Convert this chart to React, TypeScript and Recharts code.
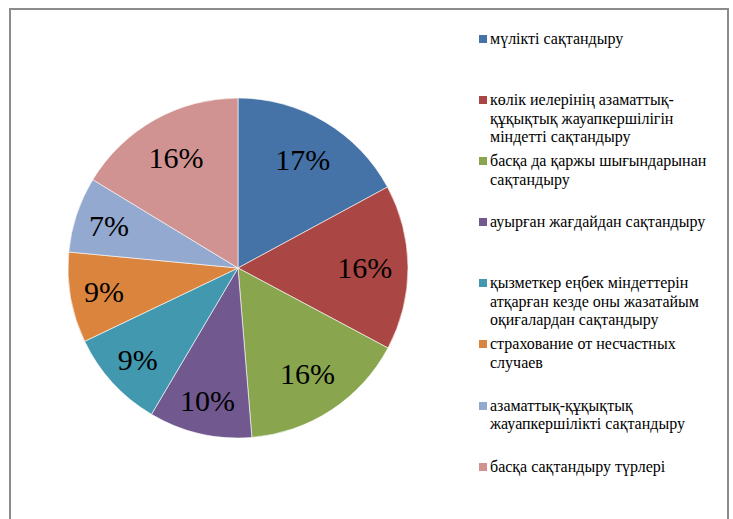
import React from 'react';
import { PieChart, Pie, Cell, Legend } from 'recharts';

const categories: string[] = [
  'мүлікті сақтандыру',
  'көлік иелерінің азаматтық-құқықтық жауапкершілігін міндетті сақтандыру',
  'басқа да қаржы шығындарынан сақтандыру',
  'ауырған жағдайдан сақтандыру',
  'қызметкер еңбек міндеттерін атқарған кезде оны жазатайым оқиғалардан сақтандыру',
  'страхование от несчастных случаев',
  'азаматтық-құқықтық жауапкершілікті сақтандыру',
  'басқа сақтандыру түрлері',
];

const shares: number[] = [17.1, 15.7, 15.9, 9.8, 9.4, 8.6, 7.2, 16.3];

const colors: string[] = [
  '#4572A7',
  '#AA4643',
  '#89A54E',
  '#71588F',
  '#4198AF',
  '#DB843D',
  '#93A9CF',
  '#D19392',
];

const data = categories.map((name, i) => ({ name, value: shares[i] }));
const total = shares.reduce((a, b) => a + b, 0);

const RAD = Math.PI / 180;
const FONT = 'Liberation Serif';

const renderLabel = (props: any) => {
  const { cx, cy, midAngle, outerRadius, value } = props;
  const pct = (value / total) * 100;
  const r = outerRadius * (pct > 12 ? 0.745 : 0.8);
  const x = cx + r * Math.cos(-midAngle * RAD);
  const y = cy + r * Math.sin(-midAngle * RAD);
  return (
    <text
      x={x}
      y={y}
      textAnchor="middle"
      dominantBaseline="central"
      fill="#000"
      fontFamily={FONT}
      fontSize={30}
    >
      {Math.round(pct)}%
    </text>
  );
};

const renderLegend = () => (
  <div style={{ fontFamily: FONT, fontSize: 16, lineHeight: '18.5px', color: '#000' }}>
    {data.map((d, i) => (
      <div key={d.name} style={{ display: 'flex', alignItems: 'flex-start', height: 61.1 }}>
        <span
          style={{
            display: 'inline-block',
            width: 8,
            height: 8,
            background: colors[i],
            marginTop: 5,
            marginRight: 3,
            flex: '0 0 auto',
          }}
        />
        <span style={{ width: 225, fontFamily: FONT }}>{d.name}</span>
      </div>
    ))}
  </div>
);

export default function App() {
  return (
    <div style={{ position: 'relative', width: 733, height: 519, overflow: 'hidden', background: '#fff' }}>
      <style>{'html,body{margin:0;padding:0;overflow:hidden;background:#fff}'}</style>
      <div
        style={{
          position: 'absolute',
          left: 9,
          top: 8,
          width: 720,
          height: 530,
          border: '2px solid #8c8c8c',
          boxSizing: 'border-box',
        }}
      />
      <div style={{ position: 'absolute', left: 0, top: 0 }}>
        <PieChart width={733} height={519}>
          <Pie
            data={data}
            dataKey="value"
            nameKey="name"
            cx={233}
            cy={263}
            outerRadius={170}
            startAngle={90}
            endAngle={-270}
            stroke="#ffffff"
            strokeWidth={0.6}
            label={renderLabel}
            labelLine={false}
            isAnimationActive={false}
          >
            {data.map((d, i) => (
              <Cell key={d.name} fill={colors[i]} />
            ))}
          </Pie>
          <Legend
            content={renderLegend}
            layout="vertical"
            verticalAlign="top"
            align="right"
            wrapperStyle={{ position: 'absolute', left: 479, top: 30, width: 245 }}
          />
        </PieChart>
      </div>
    </div>
  );
}
